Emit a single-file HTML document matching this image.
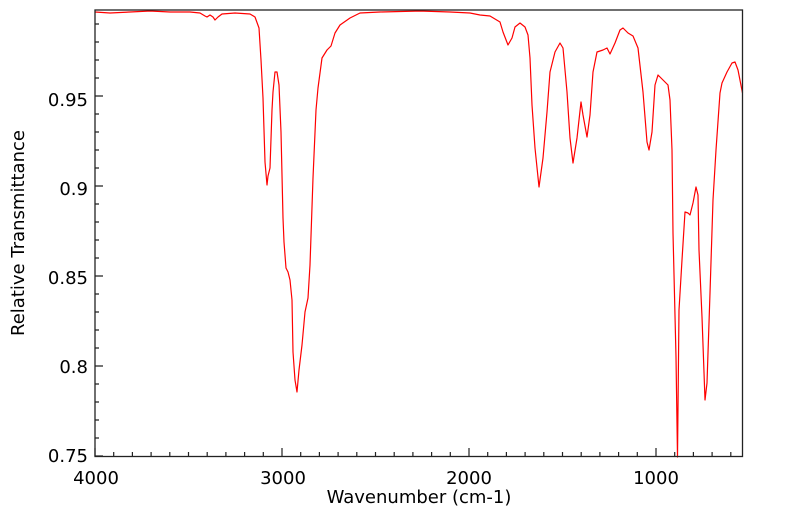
<!DOCTYPE html>
<html><head><style>body{margin:0;background:#fff}svg{display:block}</style></head><body>
<svg width="799" height="516" xmlns="http://www.w3.org/2000/svg" font-family="DejaVu Sans, Liberation Sans, sans-serif">
<rect width="799" height="516" fill="#fff"/>
<polyline fill="none" stroke="#ff0000" stroke-width="1.2" stroke-linejoin="round" points="
95,12 110,13 130,12 150,11 170,12 190,12 200,13 205,16 207,17 210,15 213,17 215,20 218,17 222,14 235,13 250,14 255,17 259,28 261,60 263,98 265,162 267,185 268,176 270,168 272,110 273,92 275,72 277,72 279,85 281,132 283,218 284,242 286,268 288,272 290,280 292,300 293,352 295,380 297,392 299,370 302,345 305,312 308,298 310,265 313,178 316,110 318,88 322,58 327,50 331,46 335,33 340,25 350,18 360,13 380,12 420,11 450,12 470,13 480,15 490,16 500,22 503,32 508,45 512,38 515,27 520,23 525,27 528,35 530,58 532,105 535,148 539,187 543,158 547,112 550,72 555,52 560,43 563,48 567,92 570,138 573,163 577,138 581,102 583,115 587,137 590,115 593,72 597,52 603,50 607,48 610,54 615,43 620,30 623,28 628,33 633,36 638,48 643,92 647,142 649,150 652,132 655,85 658,75 663,80 668,85 670,100 672,150 673,233 676,357 677.5,457 679,310 682,260 685,212 688,213 690,215 693,203 696,187 698,195 699,250 702,317 705,400 707,383 710,293 713,200 716,150 720,93 722,83 727,72 732,63 735,62 738,70 742.5,93"/>
<rect x="95" y="10" width="647.5" height="446.5" fill="none" stroke="#222" stroke-width="1.3"/>
<g stroke="#222" stroke-width="1.2">
<path d="M95,456v-8 M113.7,456v-4 M132.4,456v-4 M151.1,456v-4 M169.8,456v-4 M188.5,456v-4 M207.2,456v-4 M225.9,456v-4 M244.6,456v-4 M263.3,456v-4 M282,456v-8 M300.7,456v-4 M319.4,456v-4 M338.1,456v-4 M356.8,456v-4 M375.5,456v-4 M394.2,456v-4 M412.9,456v-4 M431.6,456v-4 M450.3,456v-4 M469,456v-8 M487.7,456v-4 M506.4,456v-4 M525.1,456v-4 M543.8,456v-4 M562.5,456v-4 M581.2,456v-4 M599.9,456v-4 M618.6,456v-4 M637.3,456v-4 M656,456v-8 M674.7,456v-4 M693.4,456v-4 M712.1,456v-4 M730.8,456v-4"/>
<path d="M95,456h8 M95,438h4 M95,420h4 M95,402h4 M95,384h4 M95,366h8 M95,348h4 M95,330h4 M95,312h4 M95,294h4 M95,276h8 M95,258h4 M95,240h4 M95,222h4 M95,204h4 M95,186h8 M95,168h4 M95,150h4 M95,132h4 M95,114h4 M95,96h8 M95,78h4 M95,60h4 M95,42h4 M95,24h4"/>
</g>
<g font-size="18" fill="#000" text-anchor="end">
<text x="88" y="106">0.95</text><text x="88" y="195">0.9</text><text x="88" y="284">0.85</text><text x="88" y="373">0.8</text><text x="88" y="462">0.75</text>
</g>
<g font-size="18" fill="#000" text-anchor="middle">
<text x="96" y="484">4000</text><text x="283" y="484">3000</text><text x="469" y="484">2000</text><text x="656" y="484">1000</text>
<text x="419" y="503">Wavenumber (cm-1)</text>
<text transform="translate(24,233) rotate(-90)">Relative Transmittance</text>
</g>
</svg>
</body></html>
